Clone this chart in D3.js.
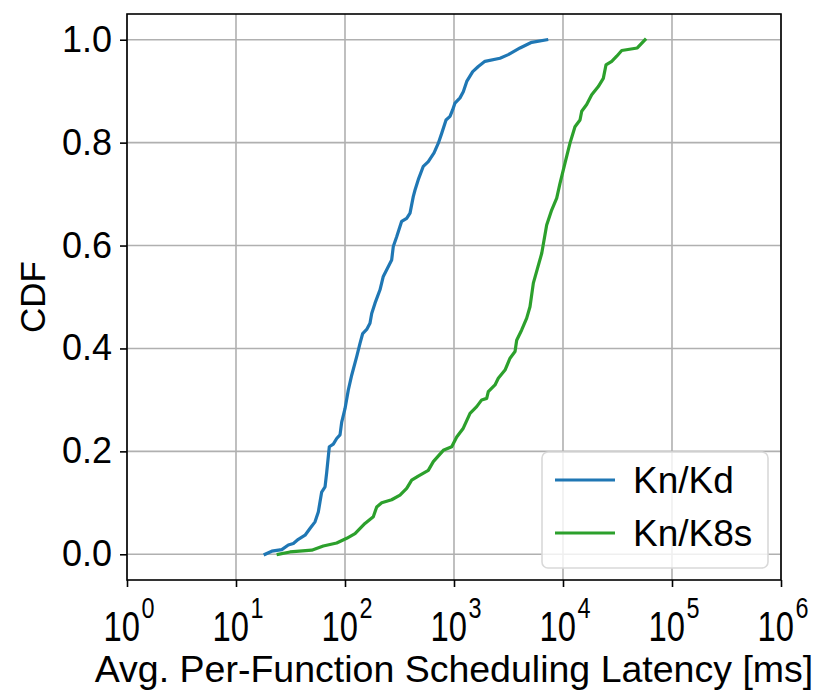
<!DOCTYPE html>
<html>
<head>
<meta charset="utf-8">
<script src="https://cdn.jsdelivr.net/npm/d3@7/dist/d3.min.js"></script>
<style>
  html, body { margin: 0; padding: 0; background: #fff; }
  svg { display: block; font-family: "Liberation Sans", Arial, Helvetica, sans-serif; }
</style>
</head>
<body>
<svg id="chart" width="818" height="690"></svg>
<script>
// Empirical CDF of average per-function scheduling latency (ms)
const knKdLatency = [18.5, 21.3, 26.3, 30.2, 33.6, 37.3, 43.0, 47.7, 53.1, 56.9, 59.0, 61.1, 65.6, 68.0, 71.8, 78.1, 83.9, 90.0, 93.3, 100, 107.2, 115.2, 128, 137.3, 145.3, 158.1, 169.5, 175.8, 188.5, 209.5, 224.5, 268, 277.3, 298, 331, 368, 395, 423, 439, 470, 523, 581, 656, 718, 771, 845, 919, 973, 1021, 1135, 1217, 1309, 1485, 1671, 1923, 2642, 3149, 4034, 5164, 7084];
const knKdCdf = [0, 0.006, 0.009, 0.018, 0.021, 0.029, 0.037, 0.05, 0.063, 0.082, 0.102, 0.121, 0.131, 0.160, 0.209, 0.214, 0.225, 0.232, 0.257, 0.283, 0.319, 0.348, 0.384, 0.410, 0.429, 0.437, 0.449, 0.468, 0.488, 0.514, 0.540, 0.572, 0.598, 0.617, 0.647, 0.653, 0.663, 0.695, 0.708, 0.728, 0.754, 0.763, 0.780, 0.799, 0.818, 0.844, 0.851, 0.864, 0.877, 0.887, 0.899, 0.919, 0.938, 0.948, 0.958, 0.964, 0.971, 0.984, 0.995, 1.0];

const knK8sLatency = [24.4, 31.3, 49.5, 63.2, 83.9, 103.7, 123.6, 152.5, 181.8, 195.4, 217.2, 268, 319.6, 368, 409, 470, 581, 646, 798, 953, 1059, 1217, 1403, 1615, 1795, 1995, 2064, 2378, 2549, 2938, 3266, 3630, 3759, 4178, 4645, 4979, 5345, 6383, 7084, 7872, 8754, 9385, 10430, 11590, 12880, 14320, 14850, 16490, 18340, 21080, 23430, 24790, 27990, 31110, 34580, 48060, 56530];
const knK8sCdf = [0, 0.0045, 0.008, 0.016, 0.022, 0.031, 0.040, 0.060, 0.073, 0.092, 0.100, 0.106, 0.115, 0.128, 0.144, 0.152, 0.163, 0.180, 0.202, 0.209, 0.228, 0.245, 0.274, 0.287, 0.300, 0.303, 0.316, 0.329, 0.342, 0.358, 0.381, 0.394, 0.416, 0.436, 0.459, 0.481, 0.527, 0.585, 0.640, 0.669, 0.692, 0.721, 0.760, 0.799, 0.831, 0.844, 0.861, 0.874, 0.893, 0.909, 0.925, 0.951, 0.958, 0.968, 0.979, 0.984, 1.0];

const seriesNames = ["Kn/Kd", "Kn/K8s"];
const seriesColors = ["#1f77b4", "#2ca02c"];
const xTickExponents = [0, 1, 2, 3, 4, 5, 6];
const yTicks = [0.0, 0.2, 0.4, 0.6, 0.8, 1.0];

const series = [
  { name: seriesNames[0], color: seriesColors[0], x: knKdLatency, y: knKdCdf },
  { name: seriesNames[1], color: seriesColors[1], x: knK8sLatency, y: knK8sCdf }
];

const margin = { left: 127, right: 37, top: 14, bottom: 110 };
const W = 818, H = 690;
const plotW = W - margin.left - margin.right;
const plotH = H - margin.top - margin.bottom;

const svg = d3.select("#chart");
const g = svg.append("g").attr("transform", `translate(${margin.left},${margin.top})`);

const x = d3.scaleLog().domain([1, 1e6]).range([0, plotW]);
const y = d3.scaleLinear().domain([-0.05, 1.05]).range([plotH, 0]);

// grid
g.append("g").selectAll("line").data(xTickExponents).join("line")
  .attr("x1", d => x(Math.pow(10, d))).attr("x2", d => x(Math.pow(10, d)))
  .attr("y1", 0).attr("y2", plotH)
  .attr("stroke", "#b0b0b0").attr("stroke-width", 1.6);
g.append("g").selectAll("line").data(yTicks).join("line")
  .attr("y1", d => y(d)).attr("y2", d => y(d))
  .attr("x1", 0).attr("x2", plotW)
  .attr("stroke", "#b0b0b0").attr("stroke-width", 1.6);

// curves
const line = d3.line().x(d => x(d[0])).y(d => y(d[1]));
series.forEach(s => {
  g.append("path")
    .datum(s.x.map((v, i) => [v, s.y[i]]))
    .attr("d", line)
    .attr("fill", "none")
    .attr("stroke", s.color)
    .attr("stroke-width", 3.2)
    .attr("stroke-linejoin", "round")
    .attr("stroke-linecap", "square");
});

// axes
const yAxis = d3.axisLeft(y).tickValues(yTicks).tickFormat(d3.format(".1f")).tickSize(7).tickPadding(8);
const yG = g.append("g").call(yAxis);
yG.select(".domain").remove();
yG.selectAll(".tick line").attr("stroke", "#000").attr("stroke-width", 1.6);
yG.selectAll(".tick text").attr("font-size", 36).attr("fill", "#000")
  .attr("font-family", "'Liberation Sans', Arial, sans-serif");

const xAxis = d3.axisBottom(x).tickValues(xTickExponents.map(e => Math.pow(10, e))).tickFormat("").tickSize(7);
const xG = g.append("g").attr("transform", `translate(0,${plotH})`).call(xAxis);
xG.select(".domain").remove();
xG.selectAll(".tick line").attr("stroke", "#000").attr("stroke-width", 1.6);

// power-of-ten tick labels (narrow mathtext-style glyphs)
const xl = g.append("g").attr("transform", `translate(0,${plotH})`);
xTickExponents.forEach(e => {
  const t = xl.append("text")
    .attr("transform", `translate(${x(Math.pow(10, e)) + 2},61) scale(0.78,1)`)
    .attr("text-anchor", "middle")
    .attr("font-size", 42)
    .attr("fill", "#000");
  t.append("tspan").text("10");
  t.append("tspan").attr("dx", 2).attr("dy", -23).attr("font-size", 30).text(String(e));
});

// frame
g.append("rect").attr("x", 0).attr("y", 0).attr("width", plotW).attr("height", plotH)
  .attr("fill", "none").attr("stroke", "#000").attr("stroke-width", 1.6);

// axis titles
svg.append("text")
  .attr("x", margin.left + plotW / 2).attr("y", 682)
  .attr("text-anchor", "middle").attr("font-size", 37.5).attr("fill", "#000")
  .text("Avg. Per-Function Scheduling Latency [ms]");
svg.append("text")
  .attr("transform", `translate(45,${margin.top + plotH / 2}) rotate(-90)`)
  .attr("text-anchor", "middle").attr("font-size", 35).attr("fill", "#000")
  .text("CDF");

// legend
const lg = g.append("g").attr("transform", `translate(${542 - margin.left},${452 - margin.top})`);
lg.append("rect").attr("width", 226).attr("height", 116).attr("rx", 6)
  .attr("fill", "#fff").attr("fill-opacity", 0.8)
  .attr("stroke", "#d9d9d9").attr("stroke-width", 1.6);
series.forEach((s, i) => {
  const yy = 28 + i * 53;
  lg.append("line").attr("x1", 13).attr("x2", 73).attr("y1", yy).attr("y2", yy)
    .attr("stroke", s.color).attr("stroke-width", 3.2);
  lg.append("text").attr("x", 91).attr("y", yy + 13)
    .attr("font-size", 37).attr("fill", "#000").text(s.name);
});
</script>
</body>
</html>
